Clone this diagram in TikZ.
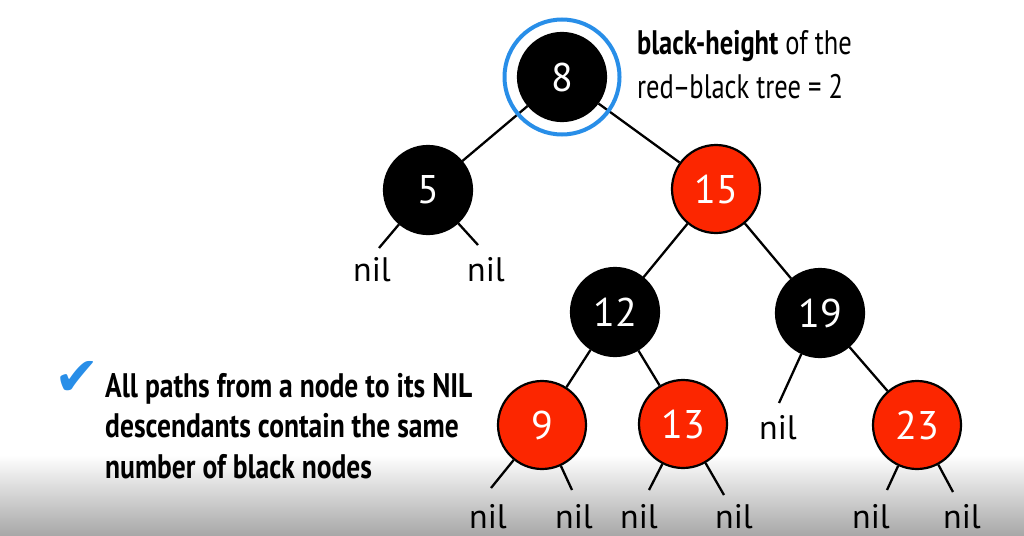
\documentclass[tikz,border=0pt]{standalone}
\usepackage{fontspec}
\setmainfont{PT Sans}
\newfontfamily\condfont[FakeStretch=0.78]{PT Sans}
\newfontfamily\bulletfont[FakeStretch=0.81]{PT Sans}
\newfontfamily\symfont{DejaVu Sans}
\usetikzlibrary{backgrounds}
\definecolor{rbred}{RGB}{252,38,0}
\definecolor{ringblue}{RGB}{40,142,232}
\definecolor{shadegray}{RGB}{168,168,168}
\begin{document}
\begin{tikzpicture}[x=1pt,y=-1pt,
  rbnode/.style={circle, minimum size=88pt, inner sep=0pt, line width=2.2pt, draw=black,
    font=\fontsize{40}{40}\selectfont, text=white},
  blk/.style={rbnode, fill=black},
  rednode/.style={rbnode, fill=rbred},
  nilt/.style={font=\fontsize{34}{34}\selectfont, inner sep=0pt},
  edge/.style={line width=2.3pt, black},
  toptext/.style={anchor=base west, inner sep=0pt, font=\condfont\fontsize{34}{34}\selectfont},
  bullettext/.style={anchor=base west, inner sep=0pt, font=\bulletfont\bfseries\fontsize{34}{34}\selectfont}]
\useasboundingbox (0,0) rectangle (1024,535);

% tree nodes
\node[blk] (n8) at (562,77) {8};
\node[circle, draw=ringblue, line width=4pt, minimum size=115pt, inner sep=0pt] (ring) at (562,77) {};
\node[blk] (n5) at (428,190) {5};
\node[rednode] (n15) at (716,189) {15};
\node[blk] (n12) at (615,312) {12};
\node[blk] (n19) at (820,313) {19};
\node[rednode] (n9) at (542,425) {9};
\node[rednode] (n13) at (683,424) {13};
\node[rednode] (n23) at (917,425) {23};

% nil leaves
\node[nilt] (nil5l) at (372,270) {nil};
\node[nilt] (nil5r) at (486,270) {nil};
\node[nilt] (nil19) at (778,428) {nil};
\node[nilt] (nil9l) at (488,517) {nil};
\node[nilt] (nil9r) at (574,517) {nil};
\node[nilt] (nil13l) at (639,517) {nil};
\node[nilt] (nil13r) at (734,517) {nil};
\node[nilt] (nil23l) at (871,517) {nil};
\node[nilt] (nil23r) at (962,517) {nil};

% stub ends
\coordinate (s5l) at (379,248);
\coordinate (s5r) at (478,245);
\coordinate (s19) at (779,403);
\coordinate (s9l) at (491,488);
\coordinate (s9r) at (572,490);
\coordinate (s13l) at (649,490);
\coordinate (s13r) at (724,495);
\coordinate (s23l) at (887,490);
\coordinate (s23r) at (953,492);

% texts
\node[toptext] (bh1) at (637,55) {\textbf{black-height} of the};
\node[toptext] (bh2) at (637,98) {red\kern-1pt–\kern-1pt black tree = 2};
\node[text=ringblue, font=\symfont\fontsize{54}{54}\selectfont, inner sep=0pt] (check) at (77,378) {✔};
\node[bullettext] (b1) at (105,397) {All paths from a node to its NIL};
\node[bullettext] (b2) at (105,437) {descendants contain the same};
\node[bullettext] (b3) at (105,478) {number of black nodes};

\begin{pgfonlayer}{background}
  \shade[top color=white, bottom color=shadegray] (0,455) rectangle (1024,535);
  \draw[edge] (n8) -- (n5);
  \draw[edge] (n8) -- (n15);
  \draw[edge] (n15) -- (n12);
  \draw[edge] (n15) -- (n19);
  \draw[edge] (n12) -- (n9);
  \draw[edge] (n12) -- (n13);
  \draw[edge] (n19) -- (n23);
  \draw[edge] (n5) -- (s5l);
  \draw[edge] (n5) -- (s5r);
  \draw[edge] (n19) -- (s19);
  \draw[edge] (n9) -- (s9l);
  \draw[edge] (n9) -- (s9r);
  \draw[edge] (n13) -- (s13l);
  \draw[edge] (n13) -- (s13r);
  \draw[edge] (n23) -- (s23l);
  \draw[edge] (n23) -- (s23r);
\end{pgfonlayer}
\end{tikzpicture}
\end{document}
